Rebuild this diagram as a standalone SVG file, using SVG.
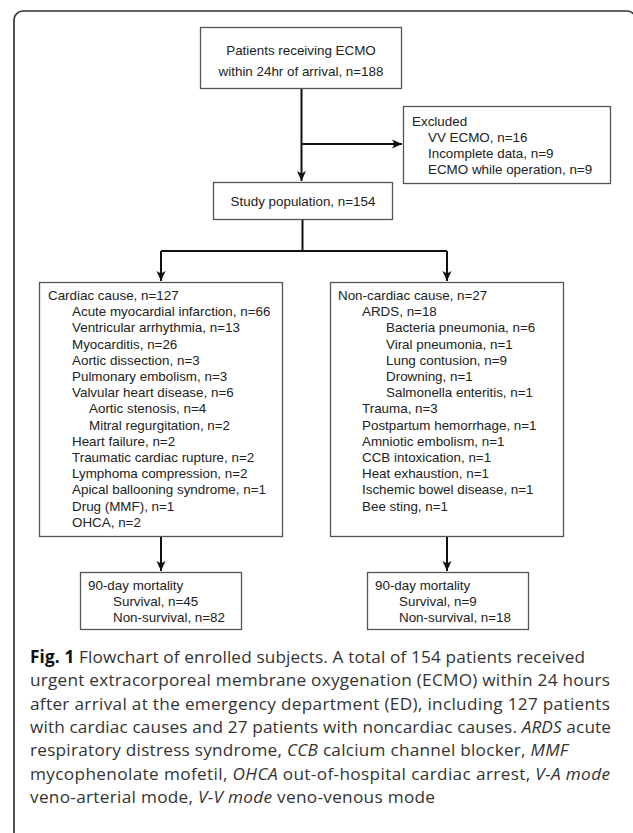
<svg xmlns="http://www.w3.org/2000/svg" width="633" height="833" viewBox="0 0 633 833">
<style>
.box{fill:#fff;stroke:#555;stroke-width:1.3}
.t{font-family:"Liberation Sans",Arial,sans-serif;font-size:13.4px;fill:#222}
.c{text-anchor:middle}
.con{fill:none;stroke:#111;stroke-width:2}
.cap{font-family:"Open Sans","Noto Sans",sans-serif;font-size:17.2px;fill:#333}
.b{font-weight:bold;fill:#111}
.i{font-style:italic}
</style>
<defs>
<marker id="ah" markerUnits="userSpaceOnUse" markerWidth="12" markerHeight="10" refX="10" refY="5" orient="auto">
<path d="M0,0.5 L10,5 L0,9.5 L2.5,5 Z" fill="#111"/>
</marker>
</defs>
<rect x="14" y="11" width="622" height="840" rx="9" fill="none" stroke="#333" stroke-width="1.7"/>
<g id="connectors">
<line class="con" x1="301.5" y1="88" x2="301.5" y2="181" marker-end="url(#ah)"/>
<line class="con" x1="301.5" y1="144" x2="402" y2="144" marker-end="url(#ah)"/>
<polyline class="con" points="302.5,219 302.5,251"/>
<polyline class="con" points="161,251 447,251"/>
<line class="con" x1="161" y1="251" x2="161" y2="281" marker-end="url(#ah)"/>
<line class="con" x1="447" y1="251" x2="447" y2="281" marker-end="url(#ah)"/>
<line class="con" x1="161" y1="536" x2="161" y2="571" marker-end="url(#ah)"/>
<line class="con" x1="447" y1="536" x2="447" y2="571" marker-end="url(#ah)"/>
</g>
<g id="top">
<rect class="box" x="200.5" y="27.5" width="201" height="61"/>
<text class="t c" x="301" y="55">Patients receiving ECMO</text>
<text class="t c" x="301" y="76">within 24hr of arrival, n=188</text>
</g>
<g id="excluded">
<rect class="box" x="403.5" y="106.5" width="207" height="77"/>
<text class="t" x="412" y="126">Excluded</text>
<text class="t" x="428" y="142">VV ECMO, n=16</text>
<text class="t" x="428" y="158">Incomplete data, n=9</text>
<text class="t" x="428" y="174">ECMO while operation, n=9</text>
</g>
<g id="study">
<rect class="box" x="213.5" y="182.5" width="179" height="37"/>
<text class="t c" x="303" y="206">Study population, n=154</text>
</g>
<g id="cardiac">
<rect class="box" x="39.5" y="282.5" width="243" height="254"/>
<text class="t" x="48" y="300">Cardiac cause, n=127</text>
<text class="t" x="72" y="316.2">Acute myocardial infarction, n=66</text>
<text class="t" x="72" y="332.4">Ventricular arrhythmia, n=13</text>
<text class="t" x="72" y="348.6">Myocarditis, n=26</text>
<text class="t" x="72" y="364.8">Aortic dissection, n=3</text>
<text class="t" x="72" y="381">Pulmonary embolism, n=3</text>
<text class="t" x="72" y="397.2">Valvular heart disease, n=6</text>
<text class="t" x="89" y="413.4">Aortic stenosis, n=4</text>
<text class="t" x="89" y="429.6">Mitral regurgitation, n=2</text>
<text class="t" x="72" y="445.8">Heart failure, n=2</text>
<text class="t" x="72" y="462">Traumatic cardiac rupture, n=2</text>
<text class="t" x="72" y="478.2">Lymphoma compression, n=2</text>
<text class="t" x="72" y="494.4">Apical ballooning syndrome, n=1</text>
<text class="t" x="72" y="510.6">Drug (MMF), n=1</text>
<text class="t" x="72" y="526.8">OHCA, n=2</text>
</g>
<g id="noncardiac">
<rect class="box" x="330.5" y="282.5" width="233" height="254"/>
<text class="t" x="338" y="300">Non-cardiac cause, n=27</text>
<text class="t" x="362" y="316.2">ARDS, n=18</text>
<text class="t" x="386" y="332.4">Bacteria pneumonia, n=6</text>
<text class="t" x="386" y="348.6">Viral pneumonia, n=1</text>
<text class="t" x="386" y="364.8">Lung contusion, n=9</text>
<text class="t" x="386" y="381">Drowning, n=1</text>
<text class="t" x="386" y="397.2">Salmonella enteritis, n=1</text>
<text class="t" x="362" y="413.4">Trauma, n=3</text>
<text class="t" x="362" y="429.6">Postpartum hemorrhage, n=1</text>
<text class="t" x="362" y="445.8">Amniotic embolism, n=1</text>
<text class="t" x="362" y="462">CCB intoxication, n=1</text>
<text class="t" x="362" y="478.2">Heat exhaustion, n=1</text>
<text class="t" x="362" y="494.4">Ischemic bowel disease, n=1</text>
<text class="t" x="362" y="510.6">Bee sting, n=1</text>
</g>
<g id="mortality-cardiac">
<rect class="box" x="80.5" y="572.5" width="161" height="57"/>
<text class="t" x="88" y="590">90-day mortality</text>
<text class="t" x="113" y="606">Survival, n=45</text>
<text class="t" x="113" y="622">Non-survival, n=82</text>
</g>
<g id="mortality-noncardiac">
<rect class="box" x="367.5" y="572.5" width="161" height="57"/>
<text class="t" x="375" y="590">90-day mortality</text>
<text class="t" x="399" y="606">Survival, n=9</text>
<text class="t" x="399" y="622">Non-survival, n=18</text>
</g>
<g id="caption">
<text class="cap" x="30" y="663" textLength="555"><tspan class="b">Fig. 1</tspan> Flowchart of enrolled subjects. A total of 154 patients received</text>
<text class="cap" x="30" y="686.3" textLength="580">urgent extracorporeal membrane oxygenation (ECMO) within 24 hours</text>
<text class="cap" x="30" y="709.6" textLength="580">after arrival at the emergency department (ED), including 127 patients</text>
<text class="cap" x="30" y="732.9" textLength="581">with cardiac causes and 27 patients with noncardiac causes. <tspan class="i">ARDS</tspan> acute</text>
<text class="cap" x="30" y="756.2" textLength="538">respiratory distress syndrome, <tspan class="i">CCB</tspan> calcium channel blocker, <tspan class="i">MMF</tspan></text>
<text class="cap" x="30" y="779.5" textLength="580">mycophenolate mofetil, <tspan class="i">OHCA</tspan> out-of-hospital cardiac arrest, <tspan class="i">V-A mode</tspan></text>
<text class="cap" x="30" y="802.8" textLength="405">veno-arterial mode, <tspan class="i">V-V mode</tspan> veno-venous mode</text>
</g>
</svg>
